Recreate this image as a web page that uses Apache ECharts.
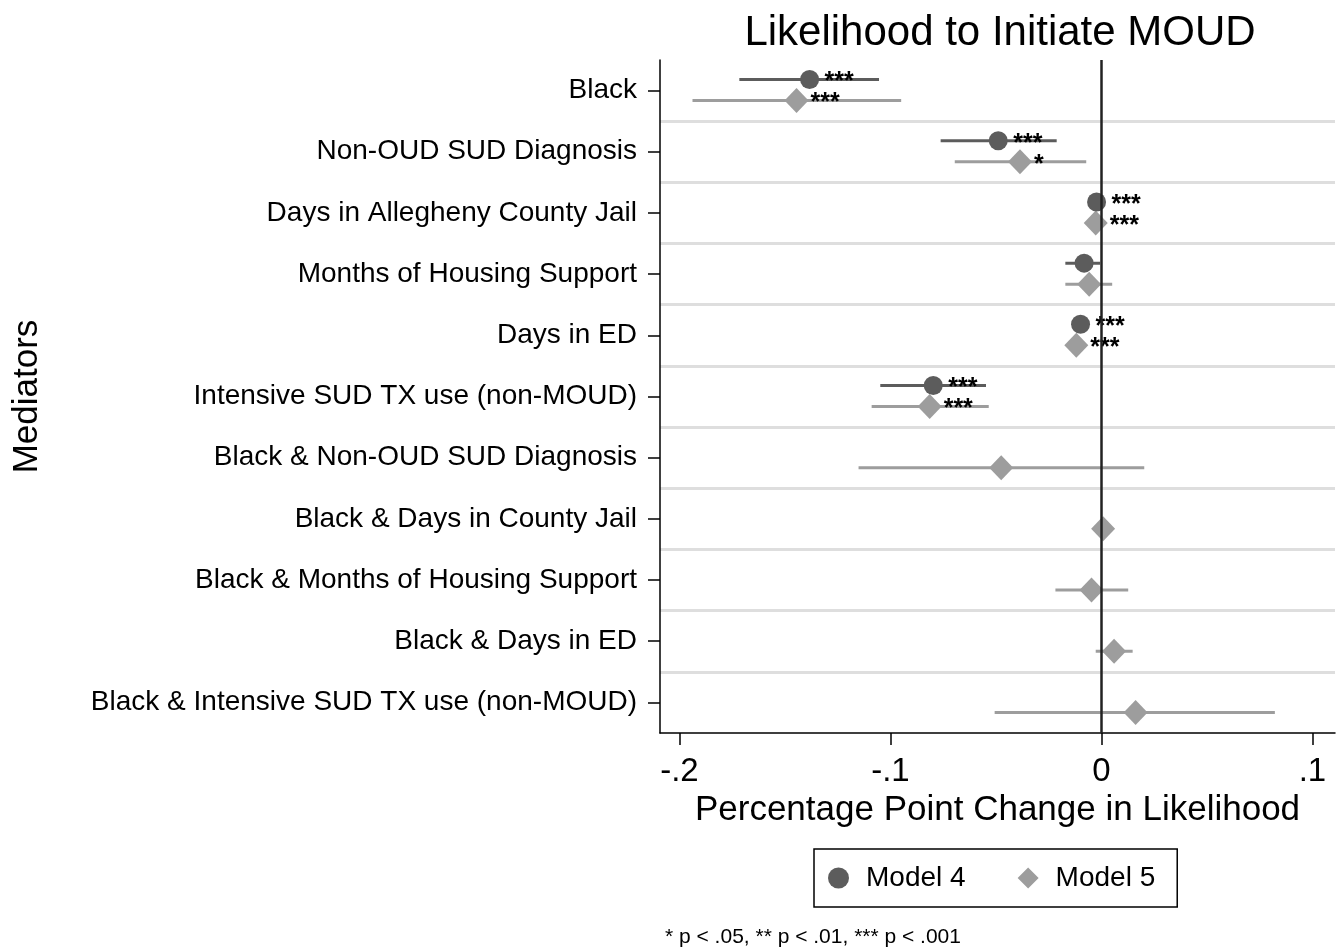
<!DOCTYPE html>
<html>
<head>
<meta charset="utf-8">
<script src="https://cdn.jsdelivr.net/npm/echarts@6/dist/echarts.min.js"></script>
<style>
  html, body { margin: 0; padding: 0; background: #fff; }
  #chart { width: 1344px; height: 950px; }
</style>
</head>
<body>
<div id="chart"></div>
<script>
// mediators, top to bottom
var categories = [
    'Black',
    'Non-OUD SUD Diagnosis',
    'Days in Allegheny County Jail',
    'Months of Housing Support',
    'Days in ED',
    'Intensive SUD TX use (non-MOUD)',
    'Black & Non-OUD SUD Diagnosis',
    'Black & Days in County Jail',
    'Black & Months of Housing Support',
    'Black & Days in ED',
    'Black & Intensive SUD TX use (non-MOUD)'
];

// Model 4 (first 6 rows only)
var m4Est   = [-0.1383, -0.0489, -0.0023, -0.0082, -0.0099, -0.0797];
var m4Lo    = [-0.1716, -0.0762, null,    -0.0171, null,    -0.1048];
var m4Hi    = [-0.1054, -0.0212, null,    -0.0006, null,    -0.0547];
var m4Stars = ['***', '***', '***', '', '***', '***'];

// Model 5
var m5Est   = [-0.1445, -0.0386, -0.0027, -0.0058, -0.0119, -0.0814, -0.0475, 0.0008, -0.0047, 0.0060, 0.0162];
var m5Lo    = [-0.1938, -0.0695, null,    -0.0171, null,    -0.1089, -0.1151, null,   -0.0218, -0.0027, -0.0506];
var m5Hi    = [-0.0949, -0.0072, null,     0.0051, null,    -0.0534,  0.0203, null,    0.0127,  0.0148,  0.0822];
var m5Stars = ['***', '*', '***', '', '***', '***', '', '', '', '', ''];

var xTicks = [-0.2, -0.1, 0, 0.1];

var FONT = '"Liberation Sans", Arial, Helvetica, sans-serif';
var M4_COLOR = '#5c5c5c';
var M5_COLOR = '#9d9d9d';

// 画一行: 置信区间 + 点 + 星号
function makeRender(lo, hi, stars, dy, shape, color) {
    return function(params, api) {
        var i = params.dataIndex;
        var row = api.value(0);
        var c = api.coord([api.value(1), row]);
        var x = c[0], y = c[1] + dy;
        var children = [];
        if (lo[i] != null && hi[i] != null) {
            var a = api.coord([lo[i], row]), b = api.coord([hi[i], row]);
            children.push({
                type: 'line',
                shape: { x1: a[0], y1: y, x2: b[0], y2: y },
                style: { stroke: color, lineWidth: 3 }
            });
        }
        if (shape == 'circle') {
            children.push({
                type: 'circle',
                shape: { cx: x, cy: y, r: 9.5 },
                style: { fill: color }
            });
        } else {
            children.push({
                type: 'polygon',
                shape: { points: [[x, y - 12.5], [x + 12, y], [x, y + 12.5], [x - 12, y]] },
                style: { fill: color }
            });
        }
        if (stars[i]) {
            children.push({
                type: 'text',
                style: {
                    x: x + (shape == 'circle' ? 15 : 14),
                    y: y + 3,
                    text: stars[i],
                    fill: '#000',
                    font: 'bold 25px ' + FONT,
                    verticalAlign: 'middle',
                    align: 'left'
                }
            });
        }
        return { type: 'group', children: children };
    };
}

var chart = echarts.init(document.getElementById('chart'));

var option = {
    backgroundColor: '#fff',
    animation: false,
    textStyle: { fontFamily: FONT },
    title: {
        text: 'Likelihood to Initiate MOUD',
        left: 995,
        top: 7,
        textAlign: 'center',
        textStyle: { fontSize: 42, fontWeight: 'normal', color: '#000', fontFamily: FONT }
    },
    grid: { left: 660, right: 9, top: 60, bottom: 217 },
    xAxis: {
        type: 'value',
        min: -0.2092,
        max: 0.1107,
        name: 'Percentage Point Change in Likelihood',
        nameLocation: 'middle',
        nameGap: 57,
        nameTextStyle: { fontSize: 35, color: '#000', fontFamily: FONT },
        axisLine: { show: true, lineStyle: { color: '#000', width: 1.5 } },
        axisTick: { show: true, length: 12, customValues: xTicks, lineStyle: { color: '#000', width: 1.5 } },
        axisLabel: {
            customValues: xTicks,
            fontSize: 33,
            color: '#000',
            margin: 22,
            formatter: function(v) {
                if (Math.abs(v) < 1e-9) return '0';
                return (v < 0 ? '-' : '') + String(Math.abs(v).toFixed(1)).replace(/^0/, '');
            }
        },
        splitLine: { show: false }
    },
    yAxis: {
        type: 'category',
        data: categories,
        inverse: true,
        boundaryGap: true,
        name: 'Mediators',
        nameLocation: 'middle',
        nameGap: 615,
        nameRotate: 90,
        nameTextStyle: { fontSize: 35, color: '#000', fontFamily: FONT },
        axisLine: { show: true, onZero: false, lineStyle: { color: '#000', width: 1.5 } },
        axisTick: { show: true, alignWithLabel: true, length: 12, lineStyle: { color: '#000', width: 1.5 } },
        axisLabel: { fontSize: 28, color: '#000', margin: 23, padding: [5, 0, 0, 0] },
        splitLine: {
            show: true,
            showMinLine: false,
            showMaxLine: false,
            lineStyle: { color: '#dedede', width: 3 }
        }
    },
    legend: {
        left: 814,
        top: 849,
        orient: 'horizontal',
        padding: [15, 22, 15, 14],
        borderColor: '#000',
        borderWidth: 1.5,
        itemWidth: 21,
        itemHeight: 21,
        itemGap: 52,
        textStyle: { fontSize: 28, color: '#000', fontFamily: FONT, padding: [0, 0, 0, 12] },
        data: [
            { name: 'Model 4', icon: 'circle' },
            { name: 'Model 5', icon: 'diamond' }
        ]
    },
    graphic: [{
        type: 'text',
        left: 665,
        top: 927,
        style: {
            text: '* p < .05, ** p < .01, *** p < .001',
            font: '21px ' + FONT,
            fill: '#000'
        }
    }],
    series: [
        {
            name: 'Model 4',
            type: 'custom',
            itemStyle: { color: M4_COLOR },
            encode: { x: 1, y: 0 },
            renderItem: makeRender(m4Lo, m4Hi, m4Stars, -11, 'circle', M4_COLOR),
            data: m4Est.map(function(v, i) { return [i, v]; }),
            markLine: {
                silent: true,
                symbol: 'none',
                label: { show: false },
                lineStyle: { color: '#222', width: 2.5, type: 'solid' },
                data: [{ xAxis: 0 }]
            },
            z: 3
        },
        {
            name: 'Model 5',
            type: 'custom',
            itemStyle: { color: M5_COLOR },
            encode: { x: 1, y: 0 },
            renderItem: makeRender(m5Lo, m5Hi, m5Stars, 10, 'diamond', M5_COLOR),
            data: m5Est.map(function(v, i) { return [i, v]; }),
            z: 2
        }
    ]
};

chart.setOption(option);
</script>
</body>
</html>
